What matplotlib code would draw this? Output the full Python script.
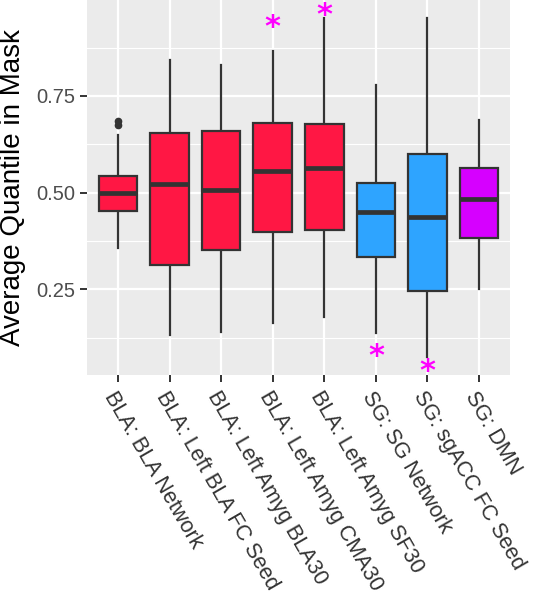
import matplotlib
matplotlib.use("Agg")
import matplotlib.pyplot as plt
import matplotlib.transforms as mtransforms

categories = ["BLA: BLA Network", "BLA: Left BLA FC Seed", "BLA: Left Amyg BLA30",
              "BLA: Left Amyg CMA30", "BLA: Left Amyg SF30", "SG: SG Network",
              "SG: sgACC FC Seed", "SG: DMN"]
whislo = [0.356, 0.132, 0.141, 0.162, 0.179, 0.136, 0.074, 0.251]
q1 = [0.453, 0.313, 0.352, 0.399, 0.404, 0.333, 0.247, 0.382]
med = [0.500, 0.522, 0.507, 0.557, 0.563, 0.451, 0.438, 0.484]
q3 = [0.543, 0.655, 0.660, 0.681, 0.678, 0.526, 0.599, 0.565]
whishi = [0.649, 0.843, 0.830, 0.865, 0.951, 0.779, 0.951, 0.688]
outliers = [[0.684, 0.676], [], [], [], [], [], [], []]
groups = ["BLA", "BLA", "BLA", "BLA", "BLA", "SG", "SG", "DMN"]
group_colors = {"BLA": "#FF1744", "SG": "#2EA4FF", "DMN": "#D600FF"}
star_cats = [4, 5, 6, 7]
star_y = [0.941, 0.972, 0.089, 0.050]
yticks = [0.25, 0.50, 0.75]
yminor = [0.125, 0.375, 0.625, 0.875]

plt.rcParams['font.family'] = ['Liberation Sans', 'DejaVu Sans']
fig = plt.figure(figsize=(5.33, 6.0), dpi=100)
ax = fig.add_axes([87/533, 225/600, 423/533, 375/600])
ax.set_facecolor("#EBEBEB")

stats = []
for i in range(len(categories)):
    stats.append(dict(whislo=whislo[i], q1=q1[i], med=med[i], q3=q3[i],
                      whishi=whishi[i], fliers=outliers[i], label=categories[i]))
pos = list(range(1, len(categories) + 1))
bp = ax.bxp(stats, positions=pos, widths=0.75, patch_artist=True, showcaps=False,
            boxprops=dict(edgecolor="#333333", linewidth=1.6),
            whiskerprops=dict(color="#333333", linewidth=1.6),
            medianprops=dict(color="#333333", linewidth=3.4, solid_capstyle="butt"),
            flierprops=dict(marker="o", markerfacecolor="#333333", markeredgecolor="#333333",
                            markersize=4.5))
for patch, g in zip(bp["boxes"], groups):
    patch.set_facecolor(group_colors[g])
for line in bp["whiskers"]:
    line.set_zorder(1.5)

star_tr = mtransforms.offset_copy(ax.transData, fig=fig, x=0, y=-5, units='dots')
for c, y in zip(star_cats, star_y):
    ax.text(c, y, "*", color="#FF00FF", fontsize=22, ha="center", va="center",
            fontfamily="DejaVu Sans", fontweight="bold", transform=star_tr)

ax.set_xlim(0.4, 8.6)
ax.set_ylim(0.0286, 0.998)
ax.set_yticks(yticks)
ax.set_yticklabels(["0.25", "0.50", "0.75"])
ax.set_yticks(yminor, minor=True)
ax.set_xticks(pos)
ax.set_xticklabels(categories, rotation=-60, ha="left", va="top", rotation_mode="anchor",
                   fontsize=15.6, color="#333333")
ax.grid(True, which="major", color="white", linewidth=1.6)
ax.grid(True, which="minor", axis="y", color="white", linewidth=0.8)
ax.set_axisbelow(True)
ax.tick_params(axis="both", which="major", color="#333333", length=5, width=1.4)
ax.tick_params(axis="y", which="major", labelsize=14.5, labelcolor="#4D4D4D")
ax.tick_params(axis="y", which="minor", length=0)
ax.tick_params(axis="x", pad=4)
for s in ax.spines.values():
    s.set_visible(False)
fig.text(0.0, 1 - 187.5/600, "Average Quantile in Mask", fontsize=20, color="black",
         rotation=90, ha="left", va="center")

fig.savefig("out.png", dpi=100)
